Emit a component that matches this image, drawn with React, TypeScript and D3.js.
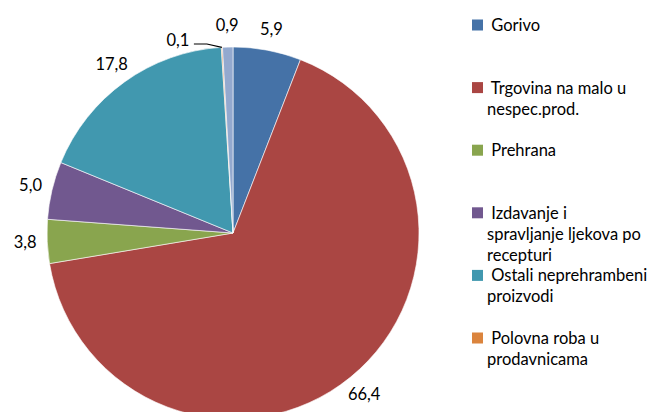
import React from "react";
import * as d3 from "d3";

const categories = [
  "Gorivo",
  "Trgovina na malo u nespec.prod.",
  "Prehrana",
  "Izdavanje i spravljanje ljekova po recepturi",
  "Ostali neprehrambeni proizvodi",
  "Polovna roba u prodavnicama",
  "Ostalo",
];
const values = [5.9, 66.4, 3.8, 5.0, 17.8, 0.1, 0.9];
const valueLabels = ["5,9", "66,4", "3,8", "5,0", "17,8", "0,1", "0,9"];
const colors = ["#4572A7", "#AA4643", "#89A54E", "#71588F", "#4198AF", "#DB843D", "#93A9CF"];
const legendLines = [
  [" Gorivo"],
  [" Trgovina na malo u", "nespec.prod."],
  [" Prehrana"],
  [" Izdavanje i", "spravljanje ljekova po", "recepturi"],
  [" Ostali neprehrambeni", "proizvodi"],
  [" Polovna roba u", "prodavnicama"],
];

const W = 658;
const H = 412;
const cx = 233;
const cy = 233;
const R = 186;
const labelR = 208;
const FONT = "Lato, 'Open Sans', sans-serif";

export default function App() {
  const pie = d3.pie<number>().sort(null).value((d) => d);
  const arcs = pie(values);
  const arc = d3.arc<d3.PieArcDatum<number>>().innerRadius(0).outerRadius(R);

  const labelPos = (a: d3.PieArcDatum<number>) => {
    const m = (a.startAngle + a.endAngle) / 2;
    return [Math.sin(m) * labelR, -Math.cos(m) * labelR];
  };

  const tiny = arcs[5];
  const tm = (tiny.startAngle + tiny.endAngle) / 2;
  const edge = [Math.sin(tm) * R, -Math.cos(tm) * R];

  return (
    <svg width={W} height={H} style={{ position: "absolute", left: 0, top: 0 }}>
      <rect width={W} height={H} fill="#fff" />
      <g transform={`translate(${cx},${cy})`}>
        {arcs.map((a, i) => (
          <path key={i} d={arc(a) || ""} fill={colors[i]} stroke="#fff" strokeWidth={0.6} />
        ))}
        {arcs.map((a, i) => {
          if (i === 5) return null;
          const [x, y] = labelPos(a);
          return (
            <text key={i} x={x} y={y} textAnchor="middle" dominantBaseline="central"
              fontFamily={FONT} fontSize={16.5} fill="#000">
              {valueLabels[i]}
            </text>
          );
        })}
        <polyline
          points={`${edge[0]},${edge[1]} ${edge[0] - 15},${-189} ${edge[0] - 28},${-189}`}
          fill="none" stroke="#000" strokeWidth={1.2} />
        <text x={edge[0] - 44} y={-193} textAnchor="middle" dominantBaseline="central"
          fontFamily={FONT} fontSize={16.5} fill="#000">
          {valueLabels[5]}
        </text>
      </g>
      <g>
        {legendLines.map((lines, i) => {
          const y0 = 25 + i * 62.6;
          return (
            <g key={i}>
              <rect x={472} y={y0 - 5.5} width={11} height={11} fill={colors[i]} />
              {lines.map((l, j) => (
                <text key={j} x={487} y={y0 + j * 21} dominantBaseline="central"
                  fontFamily={FONT} fontSize={16.5} fill="#000" style={{ whiteSpace: "pre" }}>
                  {l}
                </text>
              ))}
            </g>
          );
        })}
      </g>
    </svg>
  );
}
